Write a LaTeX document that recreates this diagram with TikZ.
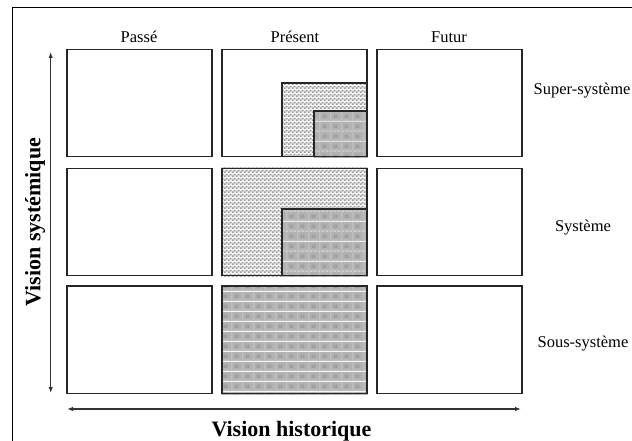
\documentclass[tikz,border=0pt]{standalone}
\usepackage{fontspec}
\setmainfont{Liberation Serif}
\usetikzlibrary{patterns.meta,arrows.meta}
\tikzdeclarepattern{
  name=medpat, type=colored,
  bottom left={(0pt,0pt)}, top right={(4pt,4pt)}, tile size={(4pt,4pt)},
  code={
    \fill[gray!12] (0pt,0pt) rectangle (4pt,4pt);
    \fill[gray!80] (0pt,0pt) rectangle (2pt,2pt);
    \fill[gray!80] (2pt,2pt) rectangle (4pt,4pt);
  }
}
\tikzdeclarepattern{
  name=darkpat, type=colored,
  bottom left={(0pt,0pt)}, top right={(11pt,10pt)}, tile size={(11pt,10pt)},
  code={
    \fill[gray!60] (0pt,0pt) rectangle (11pt,10pt);
    \fill[gray!50] (0pt,0pt) rectangle (11pt,1.5pt);
    \fill[gray!50] (0pt,0pt) rectangle (1.5pt,10pt);
    \fill[gray!78] (4pt,3.5pt) rectangle (8pt,7pt);
    \fill[gray!55] (5.3pt,4.7pt) rectangle (6.7pt,5.8pt);
  }
}
\tikzset{
  cell/.style={draw=black!85, line width=1.3pt, minimum width=145pt, minimum height=107.5pt, inner sep=0pt},
  med/.style={pattern=medpat},
  dark/.style={pattern=darkpat},
  edge/.style={draw=black!85, line width=1.4pt},
  lab/.style={font=\fontsize{16.5}{18}\selectfont, inner sep=0pt, anchor=base},
  biglab/.style={font=\fontsize{22}{24}\selectfont\bfseries, inner sep=0pt},
  axis/.style={line width=1.4pt, black!80, {Latex[length=6pt,width=4.5pt]}-{Latex[length=6pt,width=4.5pt]}}
}
\begin{document}
\begin{tikzpicture}[x=1pt,y=-1pt]
\useasboundingbox (0,0) rectangle (632,441);
\clip (0,0) rectangle (632,441);
\fill[white] (0,0) rectangle (632,441);
% frame
\draw[line width=1pt, black] (12.7,460) -- (12.7,7.3) -- (650,7.3);
% cells
\node[cell] (a1) at (139.5,103) {};
\node[cell] (b1) at (294.5,103) {};
\node[cell] (c1) at (449.5,103) {};
\node[cell] (a2) at (139.5,222) {};
\node[cell] (b2) at (294.5,222) {};
\node[cell] (c2) at (449.5,222) {};
\node[cell] (a3) at (139.5,339.8) {};
\node[cell] (b3) at (294.5,339.8) {};
\node[cell] (c3) at (449.5,339.8) {};
% shaded parts of the present column
\path[med] (282,83) rectangle (b1.south east);
\path[dark] (314,111) rectangle (b1.south east);
\draw[edge] (b1.south east) -- (282,83 -| b1.south east) -- (282,83) -- (282,0 |- b1.south east);
\draw[edge] (b1.south east |- 0,111) -- (314,111) -- (314,0 |- b1.south east);
\path[med] (b2.north west) rectangle (b2.south east);
\path[dark] (282,209) rectangle (b2.south east);
\draw[edge] (b2.south east |- 0,209) -- (282,209) -- (282,0 |- b2.south east);
\path[dark] (b3.north west) rectangle (b3.south east);
\node[cell] at (b1) {};
\node[cell] at (b2) {};
\node[cell] at (b3) {};
% column headings
\node[lab] (hp) at (139,43) {Passé};
\node[lab] (hr) at (295,43) {Présent};
\node[lab] (hf) at (449,43) {Futur};
% row labels
\node[lab] (ls) at (582,95) {Super-système};
\node[lab] (lm) at (583,231) {Système};
\node[lab] (lb) at (583,347.5) {Sous-système};
% axes
\coordinate (vt) at (50.7,52);
\coordinate (vb) at (50.7,393);
\coordinate (hl) at (67,409);
\coordinate (hr2) at (521,409);
\draw[axis] (vt) -- (vb);
\draw[axis] (hl) -- (hr2);
\node[biglab, rotate=90] (vs) at (35,222) {Vision systémique};
\node[biglab, anchor=base] (vh) at (291.5,436) {Vision historique};
\end{tikzpicture}
\end{document}
